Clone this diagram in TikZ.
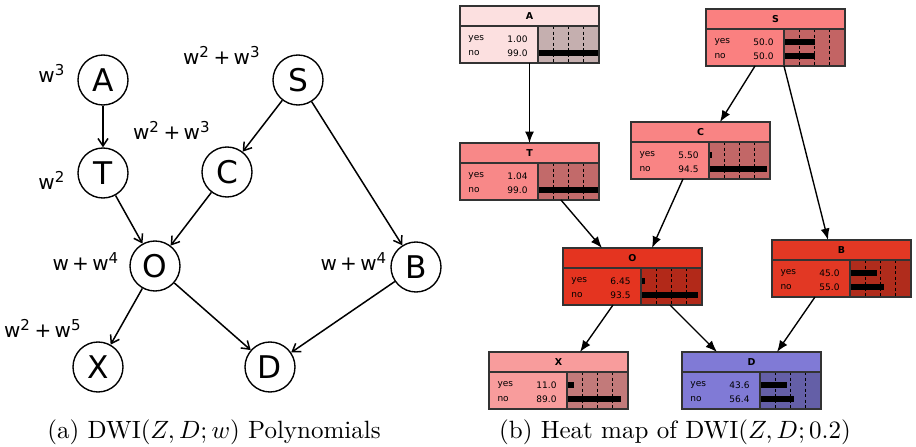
\documentclass[tikz,border=0pt]{standalone}
\usepackage{fontspec}
\usetikzlibrary{arrows.meta,calc}
\newfontfamily\graphfont{DejaVu Sans}
\definecolor{hmA}{RGB}{252,224,224}
\definecolor{hmS}{RGB}{250,128,128}
\definecolor{hmT}{RGB}{248,136,136}
\definecolor{hmC}{RGB}{249,132,132}
\definecolor{hmO}{RGB}{228,52,32}
\definecolor{hmB}{RGB}{226,56,36}
\definecolor{hmX}{RGB}{248,156,156}
\definecolor{hmD}{RGB}{128,122,214}
% one heat-map box: name, x, y (top left), colour, title, yes, no
\newcommand{\heatbox}[7]{%
\begin{scope}[shift={(#2,#3)}]
\node[hbox,fill=#4,anchor=north west] (#1) at (0,0) {};
\fill[#4!78!black] (78,20) rectangle (139,57);
\foreach \k in {1,2,3} \draw[hdash] (78+15.25*\k,20)--(78+15.25*\k,57);
\pgfmathsetmacro{\yeslen}{78+0.61*#6}
\pgfmathsetmacro{\nolen}{78+0.61*#7}
\fill (78,30) rectangle (\yeslen,36);
\fill (78,44) rectangle (\nolen,50);
\node[htitle] at (69.5,10) {#5};
\node[hlabel,anchor=west] at (8,33) {yes};
\node[hlabel,anchor=east] at (68,33) {#6};
\node[hlabel,anchor=west] at (8,47) {no};
\node[hlabel,anchor=east] at (68,47) {#7};
\draw[line width=0.45pt,black!80] (0,20)--(139,20) (78,20)--(78,57);
\draw[line width=0.45pt,black!80] (0,0) rectangle (139,57);
\end{scope}}

\begin{document}
\begin{tikzpicture}[x=0.4pt,y=-0.4pt,
  gnode/.style={circle,draw,line width=0.55pt,minimum size=20pt,inner sep=0pt,font=\graphfont\fontsize{12.5}{14}\selectfont},
  glabel/.style={font=\graphfont\fontsize{8}{9}\selectfont,inner sep=0pt},
  garrow/.style={line width=0.6pt,-{Straight Barb[length=3pt,width=4pt]}},
  hbox/.style={minimum width=55.6pt,minimum height=22.8pt,inner sep=0pt,outer sep=0pt},
  hdash/.style={line width=0.35pt,dash pattern=on 1.2pt off 1pt},
  htitle/.style={font=\graphfont\bfseries\fontsize{3.8}{4}\selectfont,inner sep=0pt},
  hlabel/.style={font=\graphfont\fontsize{3.6}{4}\selectfont,inner sep=0pt},
  harrow/.style={line width=0.55pt,-{Latex[length=4.6pt,width=3.6pt]}}]
\useasboundingbox (0,0) rectangle (916,447);

% (a) polynomial graph
\node[gnode] (cA) at (103,80) {A};
\node[gnode] (cS) at (298,80) {S};
\node[gnode] (cT) at (103,173) {T};
\node[gnode] (cC) at (227,172) {C};
\node[gnode] (cO) at (155,266) {O};
\node[gnode] (cB) at (416,267) {B};
\node[gnode] (cX) at (98,367) {X};
\node[gnode] (cD) at (270,367) {D};
\node[glabel] (lA) at (52,73) {w\textsuperscript{3}};
\node[glabel] (lS) at (222,55) {w\textsuperscript{2}\,+\,w\textsuperscript{3}};
\node[glabel] (lC) at (172,130) {w\textsuperscript{2}\,+\,w\textsuperscript{3}};
\node[glabel] (lT) at (52,180) {w\textsuperscript{2}};
\node[glabel] (lO) at (86,262) {w\,+\,w\textsuperscript{4}};
\node[glabel] (lB) at (354,262) {w\,+\,w\textsuperscript{4}};
\node[glabel] (lX) at (43,328) {w\textsuperscript{2}\,+\,w\textsuperscript{5}};
\draw[garrow] (cA)--(cT);
\draw[garrow] (cS)--(cC);
\draw[garrow] (cS)--(cB);
\draw[garrow] (cT)--(cO);
\draw[garrow] (cC)--(cO);
\draw[garrow] (cO)--(cX);
\draw[garrow] (cO)--(cD);
\draw[garrow] (cB)--(cD);

% (b) heat map
\heatbox{hA}{460}{6}{hmA}{A}{1.00}{99.0}
\heatbox{hS}{706}{9}{hmS}{S}{50.0}{50.0}
\heatbox{hC}{631}{122}{hmC}{C}{5.50}{94.5}
\heatbox{hT}{460}{143}{hmT}{T}{1.04}{99.0}
\heatbox{hB}{772}{240}{hmB}{B}{45.0}{55.0}
\heatbox{hO}{563}{248}{hmO}{O}{6.45}{93.5}
\heatbox{hX}{489}{352}{hmX}{X}{11.0}{89.0}
\heatbox{hD}{682}{352}{hmD}{D}{43.6}{56.4}
\draw[harrow] (hA.south)--(hT.north);
\draw[harrow] ($(hS.south west)+(49,0)$)--($(hC.north west)+(89,0)$);
\draw[harrow] ($(hS.south west)+(78,0)$)--($(hB.north west)+(56,0)$);
\draw[harrow] ($(hT.south west)+(101,0)$)--($(hO.north west)+(39,0)$);
\draw[harrow] ($(hC.south west)+(52,0)$)--($(hO.north west)+(89,0)$);
\draw[harrow] ($(hO.south west)+(50,0)$)--($(hX.north west)+(91,0)$);
\draw[harrow] ($(hO.south west)+(107,0)$)--($(hD.north west)+(35,0)$);
\draw[harrow] ($(hB.south west)+(43,0)$)--($(hD.north west)+(95,0)$);

% captions
\node (capA) at (214,432) {(a) DWI$(Z,D;w)$ Polynomials};
\node (capB) at (675,432) {(b) Heat map of DWI$(Z,D;0.2)$};
\end{tikzpicture}
\end{document}
